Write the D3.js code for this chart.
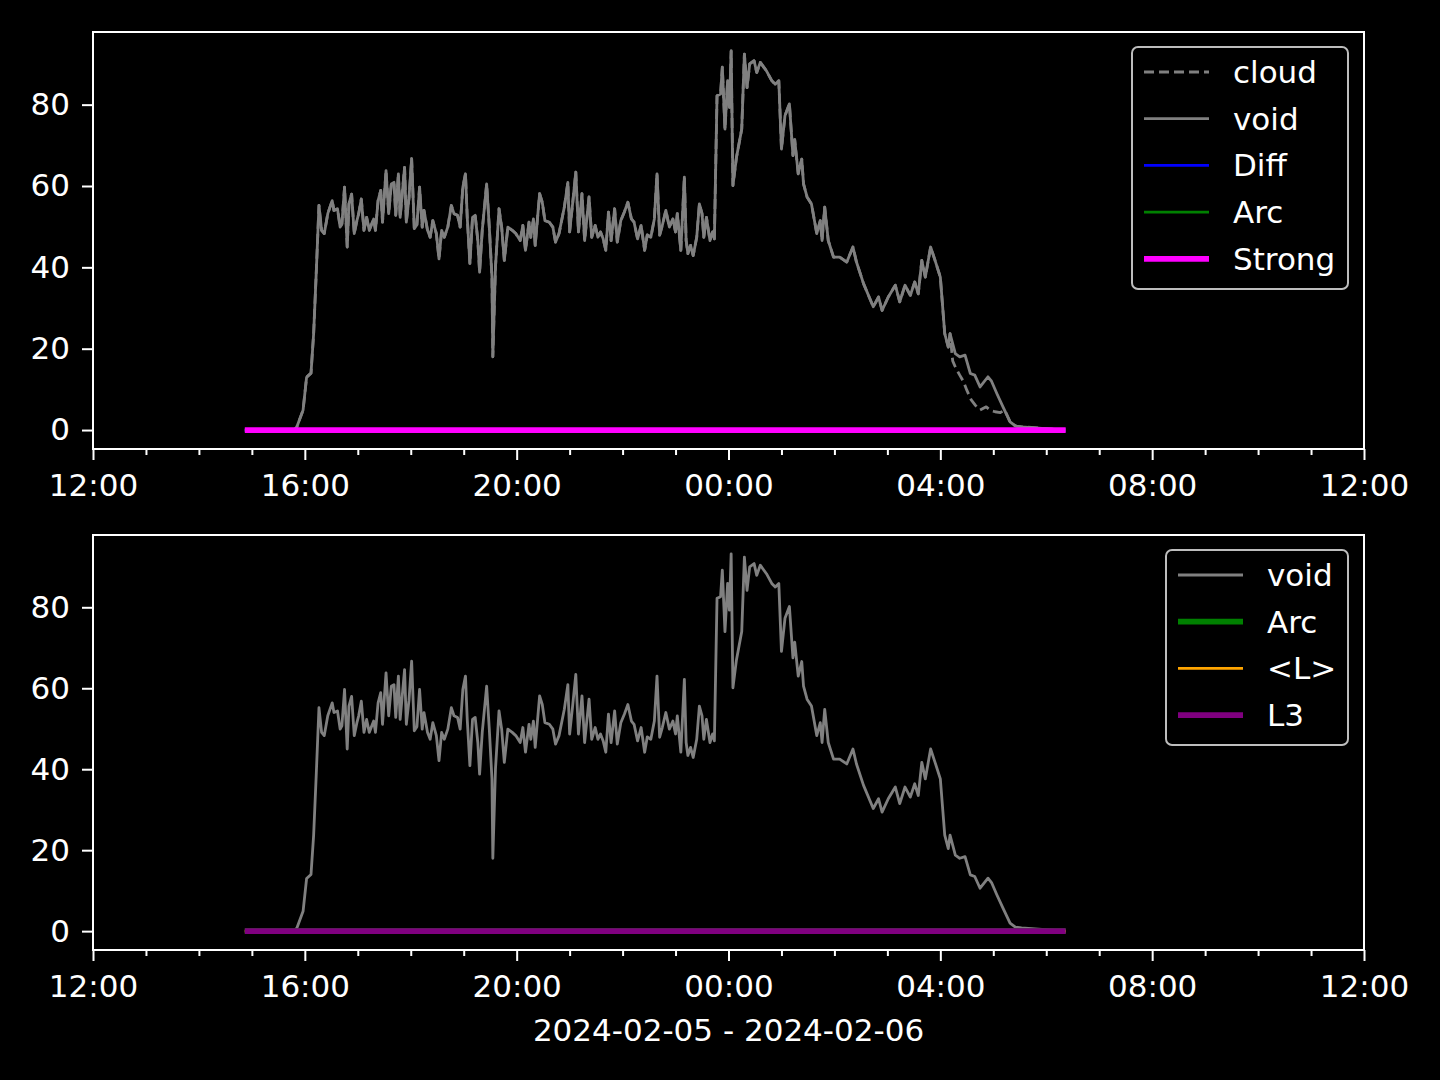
<!DOCTYPE html>
<html>
<head>
<meta charset="utf-8">
<script src="https://cdn.jsdelivr.net/npm/d3@7"></script>
<style>
  html, body { margin: 0; padding: 0; background: #000; }
  svg { display: block; }
  text { font-family: "DejaVu Sans", sans-serif; fill: #fff; }
</style>
</head>
<body>
<svg id="chart" width="1440" height="1080"></svg>
<script>
// ---------------- data ----------------
const dateLabel = "2024-02-05 - 2024-02-06";
const xTickLabels = ["12:00", "16:00", "20:00", "00:00", "04:00", "08:00", "12:00"];
const yTickValues = [0, 20, 40, 60, 80];

const voidTimes = [
  "14:52","15:48","15:51","15:58","16:02","16:07","16:10","16:13","16:16","16:19",
  "16:22","16:26","16:31","16:33","16:37","16:40","16:42","16:45","16:48","16:50",
  "16:53","16:56","16:59","17:01","17:04","17:07","17:10","17:13","17:18","17:20",
  "17:23","17:26","17:28","17:32","17:35","17:38","17:41","17:43","17:46","17:48",
  "17:53","17:55","17:58","18:01","18:04","18:07","18:10","18:13","18:15","18:19",
  "18:22","18:25","18:29","18:32","18:35","18:38","18:42","18:46","18:49","18:53",
  "18:56","18:59","19:02","19:04","19:07","19:10","19:13","19:16","19:18","19:21",
  "19:26","19:29","19:32","19:33","19:36","19:40","19:43","19:46","19:50","19:55",
  "19:59","20:04","20:07","20:10","20:14","20:16","20:19","20:21","20:26","20:29",
  "20:32","20:37","20:41","20:44","20:48","20:54","20:58","21:00","21:03","21:07",
  "21:10","21:14","21:17","21:22","21:25","21:29","21:32","21:35","21:38","21:41",
  "21:44","21:47","21:51","21:54","21:58","22:02","22:06","22:10","22:13","22:17",
  "22:21","22:25","22:28","22:32","22:36","22:39","22:42","22:45","22:49","22:53",
  "22:57","23:00","23:02","23:06","23:10","23:12","23:14","23:17","23:20","23:24",
  "23:27","23:30","23:32","23:35","23:39","23:42","23:44","23:47","23:51","23:53",
  "23:56","23:59","00:01","00:03","00:05","00:09","00:15","00:18","00:21","00:24",
  "00:29","00:32","00:36","00:43","00:49","00:53","00:57","01:00","01:04","01:09",
  "01:13","01:15","01:19","01:23","01:25","01:29","01:34","01:40","01:44","01:46",
  "01:49","01:53","01:59","02:06","02:14","02:21","02:25","02:33","02:44","02:50",
  "02:54","03:01","03:09","03:14","03:20","03:26","03:31","03:35","03:39","03:43",
  "03:49","03:54","04:00","04:05","04:09","04:11","04:17","04:22","04:28","04:34",
  "04:39","04:45","04:54","04:58","05:04","05:11","05:19","05:25","05:32","06:22"
];
const voidValues = [
  0,0,0.8,4.9,13,14,23.8,39,55.2,49.1,
  48.3,53.2,56.4,54,54.4,49.9,50.7,59.7,45,55.6,
  58,48.3,51.5,53.2,56.8,49.1,52.3,49.1,51.9,49.1,
  56.4,58.9,51.1,63.8,53.2,60.5,60.9,52.8,63,52.3,
  64.6,51.1,57,66.7,49.5,50.5,59.7,49.9,54,49.1,
  47.4,51.5,48.3,42.1,49.1,47.4,49.9,55.2,53.2,52.8,
  49.9,59.7,63,52.3,40.9,52.3,52.8,46.6,38.8,49.1,
  60.5,49.9,37.6,18,40.1,54.4,49.9,41.7,49.9,49.1,
  48.3,46.6,50.3,44.2,51.1,47.4,51.9,45.4,58.1,56,
  51.5,51.1,49.9,46.2,48.3,54.8,60.9,48.7,54.8,63.4,
  48.7,58.1,46.6,57.3,47.4,50.3,47.4,48.7,47,44.2,
  53.6,46.6,54.4,46.2,51.5,53.6,56,51.9,51.1,47,
  50.3,44.2,48,47.4,51.9,63,47.9,50.3,54,49.9,
  51.9,48.7,53.2,44.2,62.2,46.6,43.4,45.4,42.9,47.4,
  55.6,53.2,47.4,52.3,46.6,48.7,47,82.2,82.6,89.2,
  74,85.9,79.3,93.2,60.1,67,74,92.4,84.2,90,
  90.8,87.9,90.4,88.3,85.9,85,85.9,69.1,77.3,80.2,
  67.5,71.4,63,66.6,60.5,57.3,55.6,48.3,51.5,46.6,
  54.8,46.6,42.5,42.5,41.3,45,41.3,36,30.3,32.7,
  29.4,32.7,35.6,31.5,35.6,33.1,36.4,33.5,41.7,37.6,
  45,41.7,37.6,23.7,20.4,23.7,18.8,18,18.4,13.9,
  13.5,10.6,13.1,12,9,5.7,2,1,0.8,0
];

// cloud follows void until 04:11, then its own lower tail
const cloudSplitTime = "04:11";
const cloudTailTimes = ["04:14","04:17","04:22","04:26","04:30","04:35","04:40","04:45","04:52","04:57","05:02","05:08","05:13","05:19","05:25","05:32","06:22"];
const cloudTailValues = [17,15.5,13.5,12,9.8,7.4,6,4.9,5.7,4.8,4.5,4.3,4.9,2,1,0.8,0];

// flat series (all zero over the observation window)
const flatTimes = ["14:52","06:22"];
const diffValues = [0, 0];
const arcValues = [0, 0];
const strongValues = [0, 0];
const meanLValues = [0, 0];
const l3Values = [0, 0];

// ---------------- helpers ----------------
function parseT(s) {
  const [h, m] = s.split(":").map(Number);
  const day = h >= 12 ? 5 : 6;
  return new Date(2024, 1, day, h, m);
}
function zip(times, vals) { return times.map((t, i) => ({ t: parseT(t), v: vals[i] })); }

const voidData = zip(voidTimes, voidValues);
const splitIdx = voidTimes.indexOf(cloudSplitTime);
const cloudData = zip(voidTimes.slice(0, splitIdx + 1), voidValues.slice(0, splitIdx + 1))
  .concat(zip(cloudTailTimes, cloudTailValues));

// ---------------- layout ----------------
const svg = d3.select("#chart");
svg.append("rect").attr("width", 1440).attr("height", 1080).attr("fill", "#000");

const X0 = 93, X1 = 1364;
const x = d3.scaleTime()
  .domain([new Date(2024, 1, 5, 12, 0), new Date(2024, 1, 6, 12, 0)])
  .range([X0, X1]);

const FONT = 31;
const majorTicks = d3.timeHour.every(4).range(new Date(2024, 1, 5, 12, 0), new Date(2024, 1, 6, 12, 1));
const minorTicks = d3.timeHour.every(1).range(new Date(2024, 1, 5, 12, 0), new Date(2024, 1, 6, 12, 1))
  .filter(d => d.getHours() % 4 !== 0);

function panel(y0, y1, series, legend) {
  const y = d3.scaleLinear().domain([-4.66, 97.86]).range([y1, y0]);
  const g = svg.append("g");

  const clipId = "clip" + y0;
  svg.append("clipPath").attr("id", clipId).append("rect")
    .attr("x", X0).attr("y", y0).attr("width", X1 - X0).attr("height", y1 - y0);

  const line = d3.line().x(d => x(d.t)).y(d => y(d.v));
  const plot = g.append("g").attr("clip-path", `url(#${clipId})`);
  series.forEach(s => {
    plot.append("path").datum(s.data)
      .attr("d", line)
      .attr("fill", "none")
      .attr("stroke", s.color)
      .attr("stroke-width", s.width)
      .attr("stroke-dasharray", s.dash || null)
      .attr("stroke-linejoin", "round");
  });

  // x axis
  const xAxis = d3.axisBottom(x).tickValues(majorTicks)
    .tickFormat((d, i) => xTickLabels[i]).tickSizeInner(11).tickSizeOuter(0).tickPadding(14);
  const xa = g.append("g").attr("transform", `translate(0,${y1})`).call(xAxis);
  const xm = g.append("g").attr("transform", `translate(0,${y1})`)
    .call(d3.axisBottom(x).tickValues(minorTicks).tickFormat("").tickSizeInner(6).tickSizeOuter(0));
  // y axis
  const yAxis = d3.axisLeft(y).tickValues(yTickValues).tickSizeInner(11).tickSizeOuter(0).tickPadding(12);
  const ya = g.append("g").attr("transform", `translate(${X0},0)`).call(yAxis);

  [xa, xm, ya].forEach(a => {
    a.select(".domain").remove();
    a.selectAll("line").attr("stroke", "#fff").attr("stroke-width", 2);
    a.selectAll("text").attr("fill", "#fff").attr("font-size", FONT)
      .attr("font-family", "DejaVu Sans, sans-serif");
  });

  // spines
  g.append("rect").attr("x", X0).attr("y", y0).attr("width", X1 - X0).attr("height", y1 - y0)
    .attr("fill", "none").attr("stroke", "#fff").attr("stroke-width", 2);

  // legend
  const L = legend;
  const lg = g.append("g");
  lg.append("rect").attr("x", L.x).attr("y", L.y).attr("width", L.w).attr("height", L.h)
    .attr("rx", 6).attr("fill", "#000").attr("fill-opacity", 0.8)
    .attr("stroke", "#bdbdbd").attr("stroke-width", 2);
  L.items.forEach((it, i) => {
    const cy = L.y + 25 + i * 46.7;
    lg.append("line").attr("x1", L.x + 12).attr("x2", L.x + 77).attr("y1", cy).attr("y2", cy)
      .attr("stroke", it.color).attr("stroke-width", it.width).attr("stroke-dasharray", it.dash || null);
    lg.append("text").attr("x", L.x + 101).attr("y", cy).attr("dy", "0.35em")
      .attr("font-size", FONT).text(it.label);
  });
  return y;
}

const topSeries = [
  { label: "cloud", data: cloudData, color: "#808080", width: 2.8, dash: "10,5" },
  { label: "void", data: voidData, color: "#808080", width: 2.8 },
  { label: "Diff", data: zip(flatTimes, diffValues), color: "#0000ff", width: 2.8 },
  { label: "Arc", data: zip(flatTimes, arcValues), color: "#008000", width: 2.8 },
  { label: "Strong", data: zip(flatTimes, strongValues), color: "#ff00ff", width: 5.8 }
];
panel(32, 449, topSeries, { x: 1132, y: 47, w: 216, h: 242, items: topSeries });

const botSeries = [
  { label: "void", data: voidData, color: "#808080", width: 2.8 },
  { label: "Arc", data: zip(flatTimes, arcValues), color: "#008000", width: 5.8 },
  { label: "<L>", data: zip(flatTimes, meanLValues), color: "#ffa500", width: 2.8 },
  { label: "L3", data: zip(flatTimes, l3Values), color: "#800080", width: 5.8 }
];
panel(535, 950, botSeries, { x: 1166, y: 550, w: 182, h: 195, items: botSeries });

svg.append("text").attr("x", (X0 + X1) / 2).attr("y", 1030).attr("dy", "0.35em")
  .attr("text-anchor", "middle").attr("font-size", FONT).text(dateLabel);
</script>
</body>
</html>
